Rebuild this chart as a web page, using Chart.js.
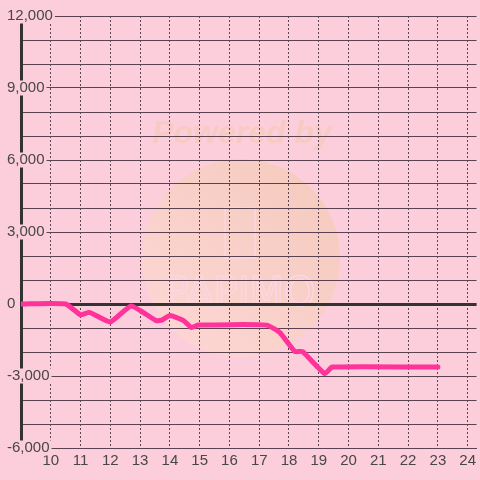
<!DOCTYPE html>
<html><head><meta charset="utf-8">
<script src="https://cdn.jsdelivr.net/npm/chart.js@4.4.1/dist/chart.umd.min.js"></script>
<style>html,body{margin:0;padding:0;background:#fccddb;}canvas{display:block;}</style>
</head><body>
<canvas id="c" width="480" height="480"></canvas>
<script>
// ---- data ----
const hours  = [9, 10.5, 11, 11.3, 12, 12.7, 13.55, 13.75, 14.0, 14.45, 14.72, 14.95, 17.25, 17.7, 18.2, 18.45, 19.2, 19.45, 23.0];
const values = [0, 0, -450, -350, -750, -80, -700, -660, -480, -680, -980, -880, -880, -1200, -1980, -1980, -2900, -2630, -2630];
const xTickLabels = [10, 11, 12, 13, 14, 15, 16, 17, 18, 19, 20, 21, 22, 23, 24];
const yLabelValues = [-6000, -3000, 0, 3000, 6000, 9000, 12000];

const BG = '#fccddb';
const GRID = '#5a4250';
const AXIS = '#333333';
const TEXT = '#474747';
const LINE = '#ff3399';

const watermark = {
  id: 'wm',
  beforeDraw(chart) {
    const ctx = chart.ctx;
    ctx.save();
    ctx.fillStyle = BG;
    ctx.fillRect(0, 0, chart.width, chart.height);
    const cx = 241, cy = 258, r = 99;
    const g = ctx.createLinearGradient(cx + r * 0.7, cy - r * 0.7, cx - r * 0.7, cy + r * 0.7);
    g.addColorStop(0, 'rgb(246,204,192)');
    g.addColorStop(1, 'rgb(252,213,210)');
    ctx.fillStyle = g;
    ctx.beginPath(); ctx.arc(cx, cy, r, 0, Math.PI * 2); ctx.fill();
    ctx.fillStyle = 'rgb(247,203,196)';
    ctx.font = 'italic bold 32px "Liberation Sans", Arial, sans-serif';
    ctx.textAlign = 'center';
    ctx.textBaseline = 'alphabetic';
    ctx.fillText('Powered by', 242, 143);
    ctx.strokeStyle = 'rgb(252,214,226)';
    ctx.lineWidth = 1.5;
    ctx.strokeRect(225, 208, 30, 50);
    ctx.font = '40px "DejaVu Sans", sans-serif';
    ctx.strokeText('PAPIMO', 240, 306);
    ctx.restore();
  }
};

new Chart(document.getElementById('c'), {
  type: 'line',
  data: {
    datasets: [{
      data: hours.map((h, i) => ({ x: h, y: values[i] })),
      borderColor: LINE,
      borderWidth: 5,
      borderJoinStyle: 'round',
      borderCapStyle: 'round',
      pointRadius: 0,
      tension: 0.15,
      fill: false
    }]
  },
  options: {
    responsive: false,
    animation: false,
    events: [],
    layout: { padding: { left: 0, top: 16, right: 0, bottom: 0 } },
    plugins: { legend: { display: false }, tooltip: { enabled: false } },
    scales: {
      x: {
        type: 'linear',
        min: 9,
        max: 24.3,
        afterFit: s => { s.height = 32; },
        ticks: {
          stepSize: 1,
          includeBounds: false,
          autoSkip: false,
          maxRotation: 0,
          padding: 4,
          color: TEXT,
          font: { family: '"Liberation Sans", Arial, sans-serif', size: 15 },
          callback: v => xTickLabels.includes(v) ? String(v) : ''
        },
        grid: { color: GRID, lineWidth: 1, drawTicks: false },
        border: { color: GRID, width: 1, dash: [2, 2] }
      },
      y: {
        type: 'linear',
        min: -6000,
        max: 12000,
        afterFit: s => { s.width = 21; },
        ticks: {
          stepSize: 1000,
          mirror: true,
          crossAlign: 'near',
          padding: -14,
          color: TEXT,
          font: { family: '"Liberation Sans", Arial, sans-serif', size: 15, lineHeight: 1 },
          showLabelBackdrop: c => yLabelValues.includes(c.tick.value),
          backdropColor: BG,
          backdropPadding: { top: 0, bottom: 0, left: 2, right: 2 },
          callback: v => yLabelValues.includes(v) ? v.toLocaleString('en-US') : ''
        },
        grid: {
          drawTicks: false,
          color: c => c.tick && c.tick.value === 0 ? AXIS : GRID,
          lineWidth: c => c.tick && c.tick.value === 0 ? 3 : 1
        },
        border: { color: AXIS, width: 3 }
      }
    }
  },
  plugins: [watermark]
});
</script>
</body></html>
